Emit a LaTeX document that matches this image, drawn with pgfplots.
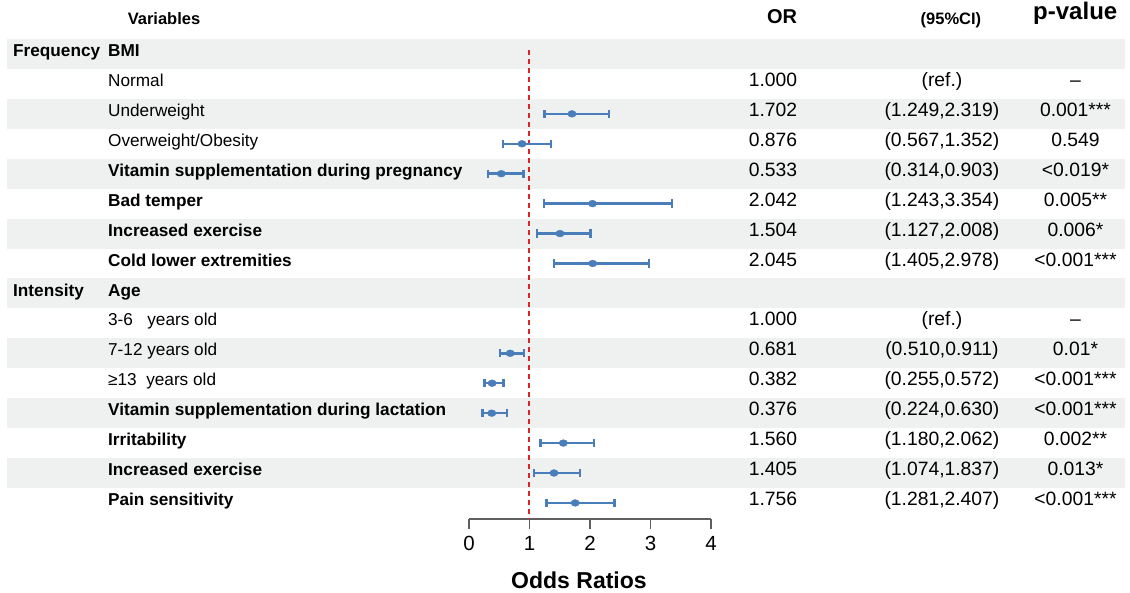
\documentclass[border=0pt]{standalone}
\usepackage{pgfplots}
\pgfplotsset{compat=1.18}
\usepackage{pgfplotstable}
\usepackage{fontspec}
\setmainfont{Liberation Sans}
\definecolor{band}{RGB}{238,241,239}
\definecolor{cicol}{RGB}{74,126,187}
\definecolor{refred}{RGB}{214,39,40}
\definecolor{axgray}{RGB}{95,95,95}
\pgfplotstableread{
y or em ep
2 1.702 0.453 0.617
3 0.876 0.309 0.476
4 0.533 0.219 0.370
5 2.042 0.799 1.312
6 1.504 0.377 0.504
7 2.045 0.640 0.933
10 0.681 0.171 0.230
11 0.382 0.127 0.190
12 0.376 0.152 0.254
13 1.560 0.380 0.502
14 1.405 0.331 0.432
15 1.756 0.475 0.651
}\ortable
\newcommand{\tf}{\fontsize{17.2bp}{20bp}\selectfont}
\newcommand{\nf}{\fontsize{19.3bp}{21bp}\selectfont}
\newcommand{\hf}{\fontsize{16.5bp}{20bp}\selectfont\bfseries}
\newcommand{\VL}[3][]{\node[anchor=mid west,inner sep=0pt,font=\tf#1] at (axis cs:-5.967,#2) {#3};}
\newcommand{\ROW}[4]{%
  \node[anchor=mid,inner sep=0pt,font=\nf] at (axis cs:5.025,#1) {#2};
  \node[anchor=mid,inner sep=0pt,font=\nf] at (axis cs:7.818,#1) {#3};
  \node[anchor=mid,inner sep=0pt,font=\nf] at (axis cs:10.025,#1) {#4};}
\newcommand{\BAND}[1]{\fill[band] (axis cs:-7.636,#1-0.5) rectangle (axis cs:10.843,#1+0.5);}
\begin{document}
\begin{tikzpicture}
\begin{axis}[
  scale only axis, width=242bp, height=510bp,
  xmin=0, xmax=4, ymin=-1.5, ymax=15.54, y dir=reverse,
  axis x line*=bottom, axis y line=none,
  xtick={0,1,2,3,4}, ytick=\empty,
  tick align=outside, major tick length=10bp,
  x axis line style={line width=1.4bp, axgray},
  xtick style={line width=1.4bp, axgray},
  xticklabel style={font=\fontsize{20.5bp}{22bp}\selectfont, yshift=-4bp},
  /pgf/number format/assume math mode=true,
  xlabel={Odds Ratios},
  xlabel style={font=\fontsize{23bp}{25bp}\selectfont\bfseries, at={(axis description cs:0.4545,-0.1196)}, anchor=center},
  clip=false,
]
% shaded bands
\BAND{0}\BAND{2}\BAND{4}\BAND{6}\BAND{8}\BAND{10}\BAND{12}\BAND{14}
% reference line
\addplot[refred, line width=2bp, dash pattern=on 5bp off 4bp] coordinates {(1,-0.13) (1,15.54)};
% estimates
\addplot[cicol, only marks, mark=*, mark size=3.4bp, mark options={xscale=1.25},
  error bars/.cd, x dir=both, x explicit,
  error bar style={line width=2.5bp, cicol},
  error mark options={rotate=90, cicol, line width=2.4bp, mark size=4.2bp}]
  table[x=or, y=y, x error minus=em, x error plus=ep] {\ortable};
% headers
\node[anchor=mid,inner sep=0pt,font=\hf] at (axis cs:-5.041,-1.069) {Variables};
\node[anchor=mid,inner sep=0pt,font=\fontsize{20bp}{22bp}\selectfont\bfseries] at (axis cs:5.174,-1.10) {OR};
\node[anchor=mid,inner sep=0pt,font=\hf] at (axis cs:7.967,-1.069) {(95\%CI)};
\node[anchor=mid,inner sep=0pt,font=\fontsize{24bp}{26bp}\selectfont\bfseries] at (axis cs:10.021,-1.236) {p-value};
% group labels
\node[anchor=mid west,inner sep=0pt,font=\tf\bfseries] at (axis cs:-7.537,0) {Frequency};
\node[anchor=mid west,inner sep=0pt,font=\tf\bfseries] at (axis cs:-7.537,8) {Intensity};
% variable labels
\VL[\bfseries]{0}{BMI}
\VL{1}{Normal}
\VL{2}{Underweight}
\VL{3}{Overweight/Obesity}
\VL[\bfseries]{4}{Vitamin supplementation during pregnancy}
\VL[\bfseries]{5}{Bad temper}
\VL[\bfseries]{6}{Increased exercise}
\VL[\bfseries]{7}{Cold lower extremities}
\VL[\bfseries]{8}{Age}
\VL{9}{3-6\ \ \ years old}
\VL{10}{7-12 years old}
\VL{11}{≥13\ \ years old}
\VL[\bfseries]{12}{Vitamin supplementation during lactation}
\VL[\bfseries]{13}{Irritability}
\VL[\bfseries]{14}{Increased exercise}
\VL[\bfseries]{15}{Pain sensitivity}
% table columns
\ROW{1}{1.000}{(ref.)}{–}
\ROW{2}{1.702}{(1.249,2.319)}{0.001***}
\ROW{3}{0.876}{(0.567,1.352)}{0.549}
\ROW{4}{0.533}{(0.314,0.903)}{<0.019*}
\ROW{5}{2.042}{(1.243,3.354)}{0.005**}
\ROW{6}{1.504}{(1.127,2.008)}{0.006*}
\ROW{7}{2.045}{(1.405,2.978)}{<0.001***}
\ROW{9}{1.000}{(ref.)}{–}
\ROW{10}{0.681}{(0.510,0.911)}{0.01*}
\ROW{11}{0.382}{(0.255,0.572)}{<0.001***}
\ROW{12}{0.376}{(0.224,0.630)}{<0.001***}
\ROW{13}{1.560}{(1.180,2.062)}{0.002**}
\ROW{14}{1.405}{(1.074,1.837)}{0.013*}
\ROW{15}{1.756}{(1.281,2.407)}{<0.001***}
\coordinate (BL) at (axis cs:-7.752,18.009);
\coordinate (TR) at (axis cs:10.926,-1.804);
\end{axis}
\pgfresetboundingbox
\path[use as bounding box] (BL) rectangle (TR);
\end{tikzpicture}
\end{document}
